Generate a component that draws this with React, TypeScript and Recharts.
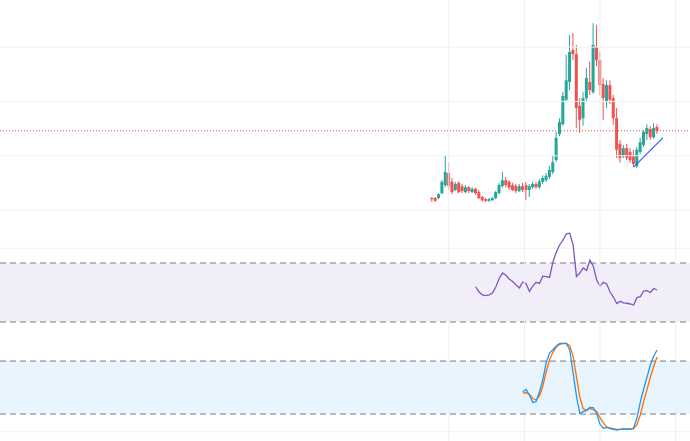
import React from "react";
import { ComposedChart, Bar, Line, XAxis, YAxis, ReferenceLine, ReferenceArea } from "recharts";

// candles (price units, no axis labels in the picture)
const opens = [
  12.2, 12.2, 12.2, 13.1, 14.6, 16.8, 15.2, 13.7, 15.0, 14.4,
  13.3, 14.2, 13.3, 13.9, 13.3, 12.4, 12.0, 11.7, 11.8, 12.2,
  13.1, 14.4, 15.5, 15.2, 14.6, 14.4, 13.5, 14.4, 14.6, 13.7,
  14.2, 14.8, 14.2, 15.2, 15.5, 16.1, 17.0, 19.2, 24.0, 25.8,
  30.3, 33.6, 39.5, 38.7, 29.2, 26.9, 30.6, 33.6, 31.7, 40.0,
  37.6, 33.2, 29.9, 33.0, 30.6, 26.9, 22.2, 19.9, 21.4, 20.7,
  19.9, 18.1, 20.7, 22.0, 24.0, 24.9, 23.4, 25.3,
];
const closes = [
  12.0, 11.7, 12.9, 15.2, 17.0, 14.4, 13.3, 14.8, 13.3, 13.5,
  14.2, 13.5, 13.9, 13.1, 12.2, 11.8, 11.7, 12.0, 12.2, 13.3,
  14.6, 15.5, 14.6, 14.1, 13.7, 13.5, 14.4, 13.7, 13.7, 14.4,
  14.8, 14.2, 15.3, 15.9, 16.3, 17.4, 18.8, 23.3, 26.2, 31.0,
  33.9, 39.1, 38.7, 28.8, 26.6, 30.6, 34.3, 32.1, 40.4, 37.6,
  33.0, 30.6, 33.0, 30.3, 26.9, 21.1, 19.6, 21.4, 19.6, 19.2,
  18.5, 21.1, 22.5, 24.4, 25.1, 23.4, 25.1, 24.6,
];
const highs = [
  12.4, 12.4, 13.1, 15.5, 20.1, 18.7, 15.9, 15.2, 15.3, 14.8,
  14.6, 14.4, 14.2, 14.1, 13.7, 12.6, 12.2, 12.2, 12.4, 13.5,
  15.0, 17.0, 16.1, 15.5, 15.0, 14.8, 14.8, 15.0, 15.2, 14.8,
  15.2, 15.2, 15.7, 16.4, 16.8, 18.1, 20.1, 24.4, 26.9, 31.7,
  38.6, 42.2, 42.6, 40.4, 30.6, 31.7, 36.2, 37.3, 44.4, 44.1,
  39.1, 34.3, 33.9, 33.9, 31.2, 28.8, 22.9, 22.0, 22.2, 21.4,
  21.1, 21.6, 23.3, 24.7, 25.8, 25.5, 26.0, 25.8,
];
const lows = [
  11.5, 11.5, 12.0, 12.9, 14.2, 13.7, 12.9, 13.5, 13.1, 13.1,
  13.1, 13.1, 13.1, 12.8, 12.0, 11.5, 11.5, 11.5, 11.7, 12.0,
  12.9, 14.1, 14.2, 13.7, 13.5, 13.1, 13.3, 13.3, 11.8, 12.4,
  13.9, 13.9, 13.9, 14.8, 15.2, 15.7, 16.6, 18.8, 23.6, 25.5,
  29.9, 32.1, 37.6, 25.1, 24.2, 25.5, 29.9, 31.2, 31.4, 36.5,
  31.2, 26.6, 28.8, 29.5, 25.7, 19.6, 18.7, 19.6, 19.2, 18.7,
  17.9, 17.7, 20.3, 21.6, 22.9, 22.9, 23.1, 24.0,
];

// RSI starts at candle 13
const RSI_START = 13;
const rsiValues = [
  53.9, 50.3, 48.4, 47.9, 48.3, 49.7, 53.7, 59.5, 63.2, 61.7,
  59.2, 57.5, 55.2, 53.1, 57.1, 55.9, 50.7, 54.3, 56.9, 56.2,
  61.1, 60.8, 60.2, 70.7, 77.5, 82.2, 85.6, 89.7, 90.2, 82.2,
  60.8, 63.2, 66.6, 64.9, 71.9, 68.0, 58.5, 54.4, 56.9, 55.8,
  50.3, 46.9, 42.5, 44.0, 43.0, 42.7, 42.2, 41.5, 46.5, 47.2,
  51.0, 51.2, 50.0, 52.7, 51.7,
];

// Stochastic starts at candle 27
const STOCH_START = 27;
const stochK = [
  45.3, 47.8, 41.6, 33.1, 34.2, 45.3, 59.1, 78.4, 89.1, 92.8,
  97.1, 100, 100, 100, 92.5, 66.5, 40.4, 20.6, 22.7, 24.2,
  27.6, 27.4, 20.6, 8.4, 3.9, 5.0, 3.6, 2.7, 1.9, 2.7,
  3.1, 3.1, 2.8, 4.2, 15.5, 33.6, 48.4, 61.9, 75.5, 85.7,
  92.5,
];
const stochD = [
  43.8, 44.4, 42.1, 37.6, 35.9, 40.4, 51.8, 67.6, 81.8, 89.9,
  95.9, 99.0, 99.8, 100, 97.5, 85, 62, 39, 26, 24.6,
  26.5, 25.1, 23, 16, 10, 5.3, 4.2, 3.5, 2.7, 2.8,
  3.0, 3.0, 3.0, 3.6, 8, 19, 34, 48, 61.9, 74.4,
  84.6,
];

const timeTicks = [5, 27.5, 50, 72.5];
const priceTicks = [10, 20, 30, 40];
const rsiTicks = [40, 60, 80];
const stochTicks = [0, 40];
const trendFrom = { i: 60, price: 17.9 };
const trendTo = { i: 68.7, price: 23.3 };

const candles = opens.map((o, i) => ({ i, open: o, close: closes[i], high: highs[i], low: lows[i] }));
const rsiData = rsiValues.map((v, k) => ({ i: k + RSI_START, rsi: v }));
const stochData = stochK.map((v, k) => ({ i: k + STOCH_START, k: v, d: stochD[k] }));
const lastClose = closes[closes.length - 1];

const W = 690;
const X_DOMAIN: [number, number] = [-128.57, 76.79];
const GRID = "#eef0f4";
const BAND_LINE = "#787b86";
const noMargin = { top: 0, right: 0, bottom: 0, left: 0 };

const Candle = (props: any) => {
  const { x, y, width, height, payload } = props;
  const { open, close, high, low } = payload;
  const top = Math.min(y, y + height);
  const span = Math.abs(height);
  const per = span / (high - low || 1);
  const yOf = (v: number) => top + (high - v) * per;
  const color = close >= open ? "#26a69a" : "#ef5350";
  const cx = x + width / 2;
  const bodyTop = yOf(Math.max(open, close));
  const bodyH = Math.max(1, Math.abs(yOf(open) - yOf(close)));
  return (
    <g>
      <line x1={cx} x2={cx} y1={top} y2={top + span} stroke={color} strokeWidth={1} />
      <rect x={cx - 1.5} y={bodyTop} width={3} height={bodyH} fill={color} />
    </g>
  );
};

const vGrid = () =>
  timeTicks.map((t) => <ReferenceLine key={"v" + t} x={t} stroke={GRID} strokeWidth={1} />);

const layer = (top: number): React.CSSProperties => ({ position: "absolute", left: 0, top });

export default function App() {
  return (
    <div style={{ position: "absolute", left: 0, top: 0, width: W, height: 441, background: "#fff", overflow: "hidden" }}>
      {/* RSI pane (drawn taller so the line can rise above its band, as in the reference) */}
      <div style={layer(200)}>
        <ComposedChart width={W} height={141} data={rsiData} margin={noMargin}>
          <XAxis dataKey="i" type="number" domain={X_DOMAIN} allowDataOverflow hide />
          <YAxis type="number" domain={[17.12, 112.7]} allowDataOverflow hide />
          <ReferenceArea y1={30} y2={70} fill="#7e57c2" fillOpacity={0.1} stroke="none" />
          {rsiTicks.map((p) => (
            <ReferenceLine key={"r" + p} y={p} stroke={GRID} strokeWidth={1} />
          ))}
          <ReferenceLine y={70} stroke={BAND_LINE} strokeDasharray="6 4" />
          <ReferenceLine y={30} stroke={BAND_LINE} strokeDasharray="6 4" />
          <Line dataKey="rsi" stroke="#7e57c2" strokeWidth={1.3} dot={false} type="linear" isAnimationActive={false} />
        </ComposedChart>
      </div>

      {/* Stochastic pane */}
      <div style={layer(341)}>
        <ComposedChart width={W} height={100} data={stochData} margin={noMargin}>
          <XAxis dataKey="i" type="number" domain={X_DOMAIN} allowDataOverflow hide />
          <YAxis type="number" domain={[-10.5, 102.7]} allowDataOverflow hide />
          <ReferenceArea y1={20} y2={80} fill="#2196f3" fillOpacity={0.1} stroke="none" />
          {vGrid()}
          {stochTicks.map((p) => (
            <ReferenceLine key={"s" + p} y={p} stroke={GRID} strokeWidth={1} />
          ))}
          <ReferenceLine y={80} stroke={BAND_LINE} strokeDasharray="6 4" />
          <ReferenceLine y={20} stroke={BAND_LINE} strokeDasharray="6 4" />
          <Line dataKey="d" stroke="#ff6d00" strokeWidth={1.3} dot={false} type="linear" isAnimationActive={false} />
          <Line dataKey="k" stroke="#2196f3" strokeWidth={1.3} dot={false} type="linear" isAnimationActive={false} />
        </ComposedChart>
      </div>

      {/* price pane */}
      <div style={layer(0)}>
        <ComposedChart width={W} height={341} data={candles} margin={noMargin}>
          <XAxis dataKey="i" type="number" domain={X_DOMAIN} allowDataOverflow hide />
          <YAxis type="number" domain={[-14.12, 48.68]} allowDataOverflow hide />
          {vGrid()}
          {priceTicks.map((p) => (
            <ReferenceLine key={"p" + p} y={p} stroke={GRID} strokeWidth={1} />
          ))}
          <ReferenceLine y={lastClose} stroke="#e0504a" strokeDasharray="1 2" strokeWidth={1} />
          <Bar dataKey={(d: any) => [d.low, d.high]} barSize={3} shape={<Candle />} isAnimationActive={false} />
          <ReferenceLine
            segment={[{ x: trendFrom.i, y: trendFrom.price }, { x: trendTo.i, y: trendTo.price }]}
            stroke="#2962ff"
            strokeWidth={1.2}
          />
        </ComposedChart>
      </div>
    </div>
  );
}
